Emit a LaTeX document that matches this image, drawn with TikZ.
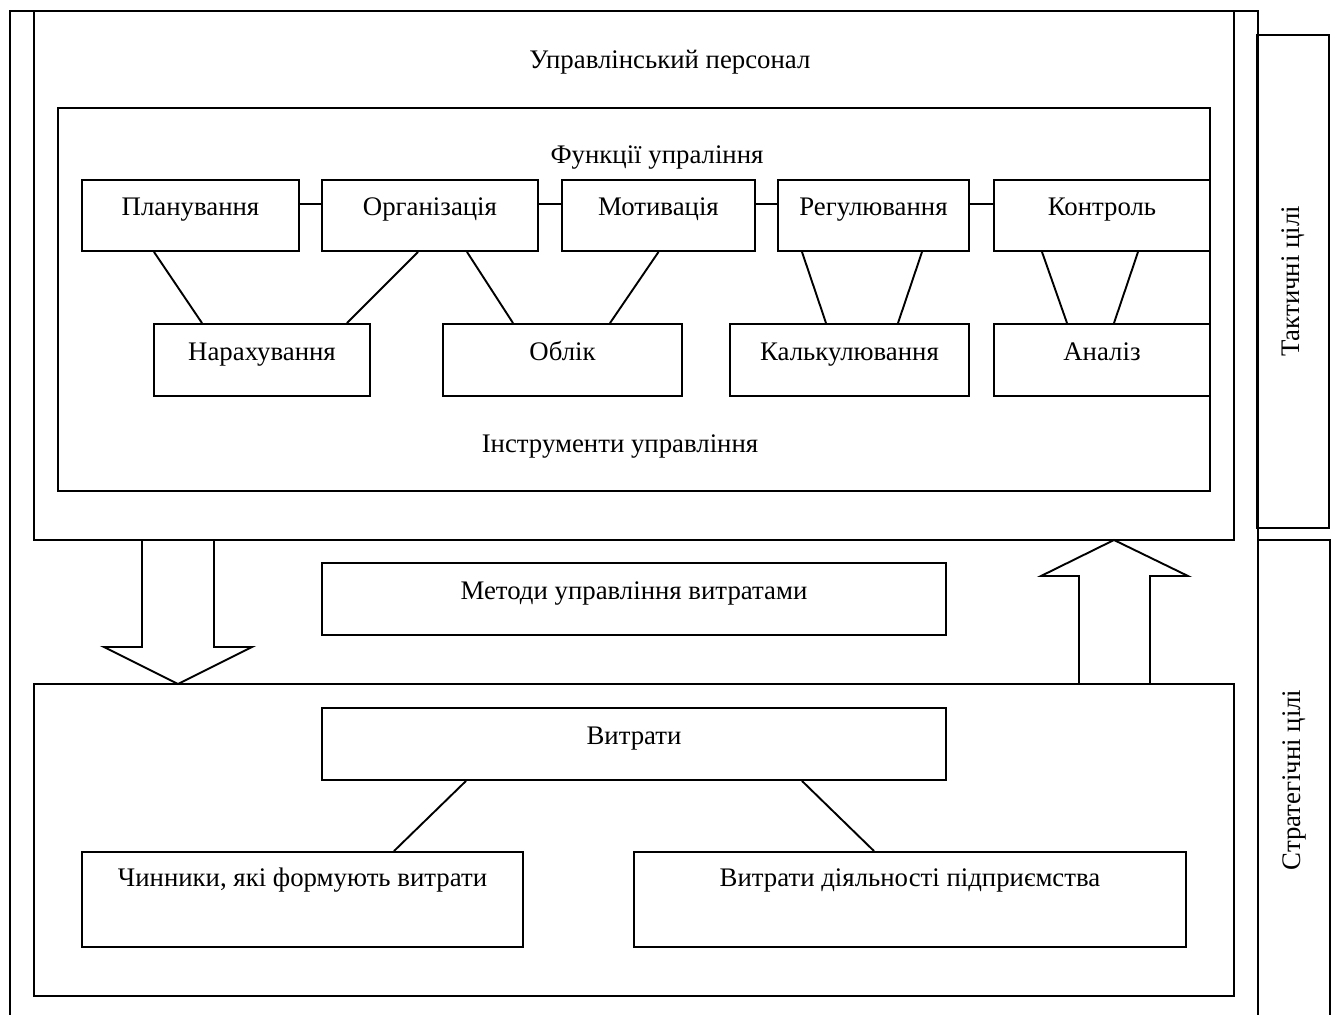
\documentclass[tikz,border=0pt]{standalone}
\usepackage{fontspec}
\setmainfont{Liberation Serif}
\usetikzlibrary{%
  calc,arrows.meta,shapes}
\tikzset {>=Stealth,
  box/.style={draw,rectangle,inner sep=0pt,text height=18pt,text depth=18pt},
  frame/.style={draw,rectangle,inner sep=0pt}}

\begin{document}
\begin{tikzpicture}[x=1pt,y=-1pt,line width=1.9pt,
  font=\fontsize{26.8}{31}\selectfont]
\useasboundingbox (0,0) rectangle (1335,1014);
\clip (0,0) rectangle (1335,1014);
% outer frame
\draw (10,1030) -- (10,11) -- (1258,11) -- (1258,1030);
\node[frame,minimum width=72pt,minimum height=493pt] (tact) at (1293,281.5) {};
\node[frame,minimum width=72pt,minimum height=480pt] (strat) at (1294,780) {};
\node[rotate=90] (tactText) at (tact.center) {Тактичні цілі};
\node[rotate=90] (stratText) at (strat.center) {Стратегічні цілі};
% management
\node[frame,minimum width=1200pt,minimum height=529pt] (staff) at (634,275.5) {};
\node (staffText) at (670,62) {Управлінський персонал};
\node[frame,minimum width=1152pt,minimum height=383pt] (func) at (634,299.5) {};
\node (funcText) at (657,158) {Функції упраління};
\node (toolText) at (620,447) {Інструменти управління};
% functions
\node[box,minimum width=217pt,minimum height=71pt] (plan)  at (190.5,215.5) {Планування};
\node[box,minimum width=216pt,minimum height=71pt] (org)   at (430,215.5)   {Організація};
\node[box,minimum width=193pt,minimum height=71pt] (motiv) at (658.5,215.5) {Мотивація};
\node[box,minimum width=191pt,minimum height=71pt] (reg)   at (873.5,215.5) {Регулювання};
\node[box,minimum width=216pt,minimum height=71pt] (contr) at (1102,215.5)  {Контроль};
% tools
\node[box,minimum width=216pt,minimum height=72pt] (nar)   at (262,360)    {Нарахування};
\node[box,minimum width=239pt,minimum height=72pt] (oblik) at (562.5,360)  {Облік};
\node[box,minimum width=239pt,minimum height=72pt] (kalk)  at (849.5,360)  {Калькулювання};
\node[box,minimum width=216pt,minimum height=72pt] (anal)  at (1102,360)   {Аналіз};
\draw ([yshift=11.5pt]plan.east)  -- ([yshift=11.5pt]org.west);
\draw ([yshift=11.5pt]org.east)   -- ([yshift=11.5pt]motiv.west);
\draw ([yshift=11.5pt]motiv.east) -- ([yshift=11.5pt]reg.west);
\draw ([yshift=11.5pt]reg.east)   -- ([yshift=11.5pt]contr.west);
\draw ([xshift=-36.5pt]plan.south) -- ([xshift=-60pt]nar.north);
\draw ([xshift=-12pt]org.south)    -- ([xshift=85pt]nar.north);
\draw ([xshift=37pt]org.south)     -- ([xshift=-49.5pt]oblik.north);
\draw (motiv.south)                -- ([xshift=47.5pt]oblik.north);
\draw ([xshift=-71.5pt]reg.south)  -- ([xshift=-23.5pt]kalk.north);
\draw ([xshift=48.5pt]reg.south)   -- ([xshift=48.5pt]kalk.north);
\draw ([xshift=-60pt]contr.south)  -- ([xshift=-35pt]anal.north);
\draw ([xshift=36pt]contr.south)   -- ([xshift=12pt]anal.north);
% methods
\node[box,minimum width=624pt,minimum height=72pt] (methods) at (634,599) {Методи управління витратами};
% costs
\node[frame,minimum width=1200pt,minimum height=312pt] (lower) at (634,840) {};
\node[box,minimum width=624pt,minimum height=72pt] (costs) at (634,744) {Витрати};
\node[box,minimum width=441pt,minimum height=95pt,text depth=45pt] (factors) at (302.5,899.5) {Чинники, які формують витрати};
\node[box,minimum width=552pt,minimum height=95pt,text depth=45pt] (activ) at (910,899.5) {Витрати діяльності підприємства};
\draw ([xshift=-168pt]costs.south) -- ([xshift=91.5pt]factors.north);
\draw ([xshift=168pt]costs.south)  -- ([xshift=-36pt]activ.north);
% block arrows
\draw (142,540) -- (142,647) -- (104,647) -- (178,684) -- (252,647) -- (214,647) -- (214,540);
\draw (1079,684) -- (1079,576) -- (1041,576) -- (1114,540) -- (1188,576) -- (1150,576) -- (1150,684);
\end{tikzpicture}
\end{document}
